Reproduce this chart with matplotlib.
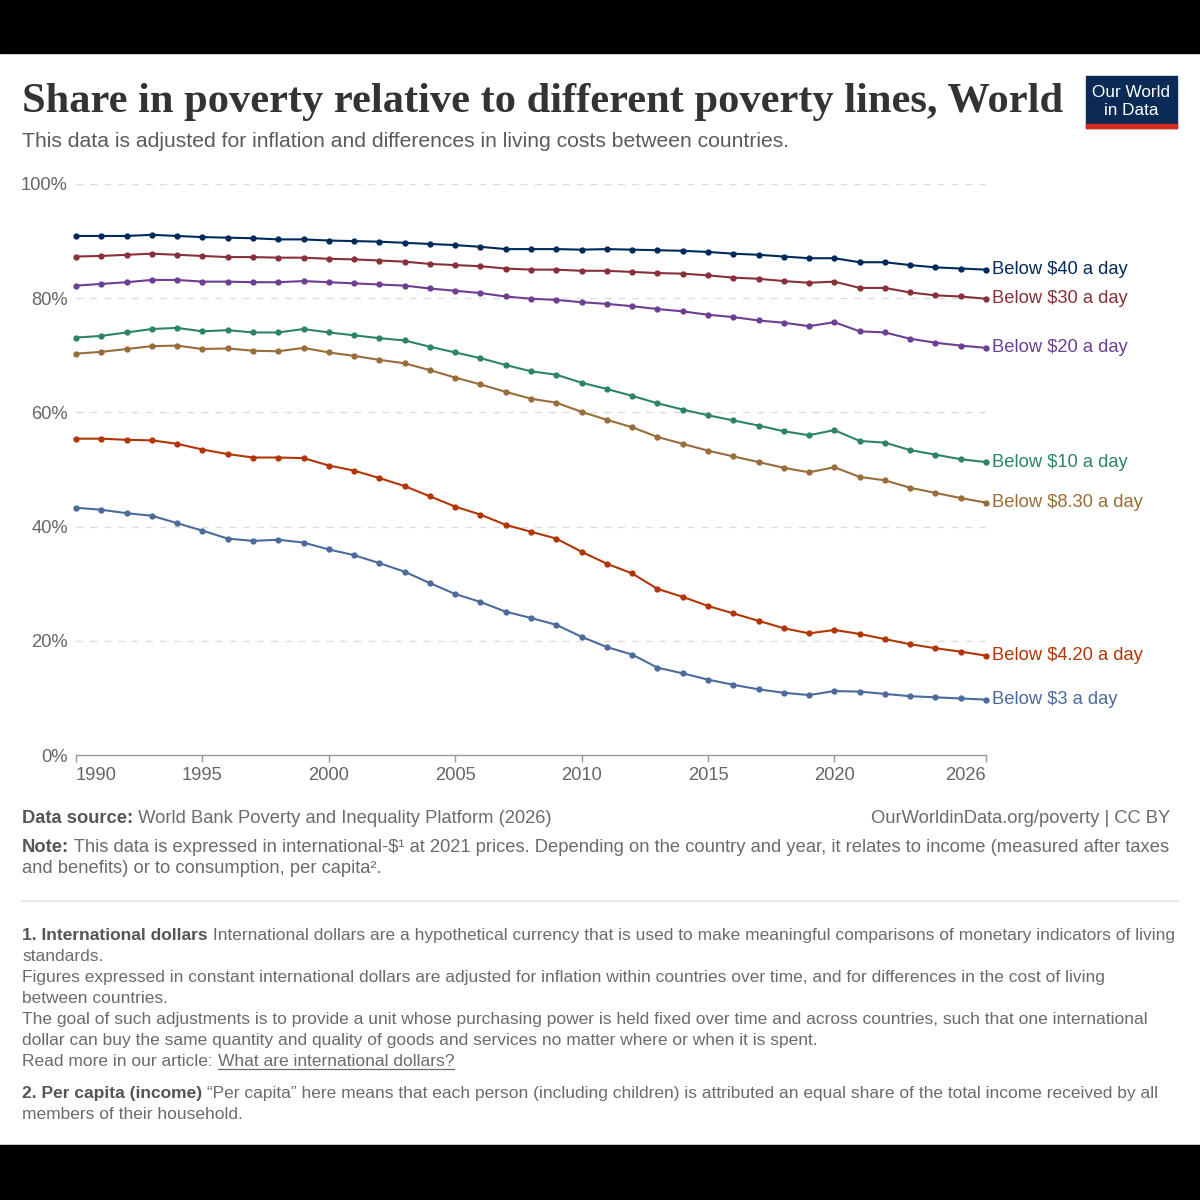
import matplotlib
matplotlib.use("Agg")
import matplotlib.pyplot as plt
from matplotlib.patches import Rectangle
from matplotlib.lines import Line2D

years = list(range(1990, 2027))

below_40 = [90.9, 90.9, 90.9, 91.1, 90.9, 90.7, 90.6, 90.5, 90.3, 90.3, 90.1, 90.0, 89.9,
            89.7, 89.5, 89.3, 89.0, 88.6, 88.6, 88.6, 88.5, 88.6, 88.5, 88.4, 88.3, 88.1, 87.8, 87.6, 87.3,
            87.0, 87.0, 86.3, 86.3, 85.8, 85.4, 85.2, 85.0]
below_30 = [87.3, 87.4, 87.6, 87.8, 87.6, 87.4, 87.2, 87.2, 87.1, 87.1, 86.9, 86.8, 86.6,
            86.4, 86.0, 85.8, 85.6, 85.2, 85.0, 85.0, 84.8, 84.8, 84.6, 84.4, 84.3, 84.0, 83.6, 83.4, 83.0,
            82.7, 82.9, 81.8, 81.8, 81.0, 80.5, 80.3, 79.9]
below_20 = [82.2, 82.5, 82.8, 83.2, 83.2, 82.9, 82.9, 82.8, 82.8, 83.0, 82.8, 82.6, 82.4,
            82.2, 81.7, 81.3, 80.9, 80.3, 79.9, 79.7, 79.3, 79.0, 78.6, 78.1, 77.7, 77.1, 76.7, 76.1, 75.7,
            75.1, 75.8, 74.2, 74.0, 72.9, 72.2, 71.7, 71.3]
below_10 = [73.1, 73.4, 74.0, 74.6, 74.8, 74.2, 74.4, 74.0, 74.0, 74.6, 74.0, 73.5, 73.0,
            72.6, 71.5, 70.5, 69.5, 68.3, 67.2, 66.6, 65.2, 64.1, 62.9, 61.6, 60.5, 59.5, 58.6, 57.7, 56.7,
            56.0, 56.9, 55.0, 54.7, 53.4, 52.6, 51.8, 51.3]
below_830 = [70.3, 70.6, 71.1, 71.6, 71.7, 71.1, 71.2, 70.8, 70.7, 71.3, 70.5, 69.9, 69.2,
             68.6, 67.4, 66.1, 64.9, 63.6, 62.4, 61.7, 60.1, 58.7, 57.4, 55.7, 54.5, 53.3, 52.3, 51.3, 50.3,
             49.5, 50.4, 48.7, 48.1, 46.8, 45.9, 45.0, 44.2]
below_420 = [55.4, 55.4, 55.2, 55.1, 54.5, 53.5, 52.7, 52.1, 52.1, 52.0, 50.7, 49.8, 48.5,
             47.1, 45.3, 43.5, 42.1, 40.3, 39.1, 37.9, 35.6, 33.5, 31.8, 29.1, 27.7, 26.1, 24.8, 23.5, 22.2,
             21.3, 21.9, 21.2, 20.3, 19.4, 18.7, 18.1, 17.4]
below_3 = [43.3, 42.95, 42.35, 41.9, 40.6, 39.3, 37.9, 37.5, 37.7, 37.2, 36.0, 35.0, 33.6,
           32.1, 30.1, 28.2, 26.8, 25.1, 24.0, 22.8, 20.7, 18.9, 17.6, 15.3, 14.3, 13.2, 12.3, 11.5, 10.9,
           10.5, 11.2, 11.1, 10.7, 10.3, 10.1, 9.9, 9.7]

series_names = ["Below $40 a day", "Below $30 a day", "Below $20 a day", "Below $10 a day",
                "Below $8.30 a day", "Below $4.20 a day", "Below $3 a day"]
series_values = [below_40, below_30, below_20, below_10, below_830, below_420, below_3]
series_colors = ["#00295B", "#883039", "#6D3E91", "#2C8465", "#996D39", "#B13507", "#4C6A9C"]

x_ticks = [1990, 1995, 2000, 2005, 2010, 2015, 2020, 2026]
y_ticks = [0, 20, 40, 60, 80, 100]

plt.rcParams['font.family'] = ['Liberation Sans', 'DejaVu Sans']

W = 1200
fig = plt.figure(figsize=(12, 12), dpi=100)
fig.patch.set_facecolor("white")


def fx(x):
    return x / W


def fy(y):
    return 1 - y / W


# black bands top and bottom
fig.patches.append(Rectangle((0, fy(53)), 1, 53 / W, transform=fig.transFigure, color="black", zorder=0))
fig.patches.append(Rectangle((0, 0), 1, 55 / W, transform=fig.transFigure, color="black", zorder=0))

LBL = 13.2
ax = fig.add_axes([fx(76), fy(755), (986 - 76) / W, (755 - 184) / W])
for name, vals, col in zip(series_names, series_values, series_colors):
    ax.plot(years, vals, color=col, lw=1.5, marker="o", markersize=3.5, zorder=3, clip_on=False)
    ax.text(years[-1] + 0.25, vals[-1], name, color=col, fontsize=LBL, va="center", ha="left")

ax.set_xlim(1990, 2026)
ax.set_ylim(0, 100)
for s in ["top", "right", "left"]:
    ax.spines[s].set_visible(False)
ax.spines["bottom"].set_color("#999999")
ax.spines["bottom"].set_linewidth(1)
for v in y_ticks[1:]:
    ax.axhline(v, color="#dddddd", lw=1, ls=(0, (5, 5)), zorder=1)
ax.set_yticks(y_ticks)
ax.set_yticklabels([f"{v}%" for v in y_ticks])
ax.tick_params(axis="y", length=0, pad=5.8, labelsize=LBL, labelcolor="#666666")
ax.set_xticks(x_ticks)
ax.set_xticklabels([str(v) for v in x_ticks])
ax.tick_params(axis="x", length=5, width=1, color="#999999", pad=4, labelsize=LBL, labelcolor="#666666")
xl = ax.get_xticklabels()
xl[0].set_ha("left")
xl[-1].set_ha("right")

# title and subtitle
fig.text(fx(22), fy(112), "Share in poverty relative to different poverty lines, World",
         family="Liberation Serif", weight="bold", fontsize=30.6, color="#333333", va="baseline")
fig.text(fx(22), fy(147), "This data is adjusted for inflation and differences in living costs between countries.",
         fontsize=15.2, color="#5b5b5b", va="baseline")

# logo
fig.patches.append(Rectangle((fx(1086), fy(128)), 91 / W, 52 / W, transform=fig.transFigure,
                             color="#0b2a55", zorder=2))
fig.patches.append(Rectangle((fx(1086), fy(128)), 91 / W, 4 / W, transform=fig.transFigure,
                             color="#d42b21", zorder=3))
fig.text(fx(1131.5), fy(97), "Our World", color="white", fontsize=12.3, ha="center", va="baseline", zorder=4)
fig.text(fx(1131.5), fy(115), "in Data", color="white", fontsize=12.3, ha="center", va="baseline", zorder=4)

renderer = fig.canvas.get_renderer()
GRAY = "#6b6b6b"
DARK = "#555555"


def rich(x, y, parts, size=12.55):
    for s, bold in parts:
        t = fig.text(fx(x), fy(y), s, fontsize=size, color=DARK if bold else GRAY,
                     weight="bold" if bold else "normal", va="baseline")
        bb = t.get_window_extent(renderer)
        x = bb.x1
    return x


rich(22, 823, [("Data source:", True), (" World Bank Poverty and Inequality Platform (2026)", False)], 13.2)
fig.text(fx(1170), fy(823), "OurWorldinData.org/poverty | CC BY", fontsize=13.2, color=GRAY,
         ha="right", va="baseline")
rich(22, 852, [("Note:", True), (" This data is expressed in international-$¹ at 2021 prices. Depending on the "
                                 "country and year, it relates to income (measured after taxes", False)], 13.2)
rich(22, 873, [("and benefits) or to consumption, per capita².", False)], 13.2)

fig.add_artist(Line2D([fx(22), fx(1178)], [fy(901), fy(901)], color="#e3e3e3", lw=1.2))

rich(22, 940, [("1. International dollars", True),
               (" International dollars are a hypothetical currency that is used to make meaningful "
                "comparisons of monetary indicators of living", False)])
rich(22, 961, [("standards.", False)])
rich(22, 982, [("Figures expressed in constant international dollars are adjusted for inflation within "
                "countries over time, and for differences in the cost of living", False)])
rich(22, 1003, [("between countries.", False)])
rich(22, 1024, [("The goal of such adjustments is to provide a unit whose purchasing power is held fixed over "
                 "time and across countries, such that one international", False)])
rich(22, 1045, [("dollar can buy the same quantity and quality of goods and services no matter where or "
                 "when it is spent.", False)])
x0 = rich(22, 1066, [("Read more in our article: ", False)])
x1 = rich(x0, 1066, [("What are international dollars?", False)])
fig.add_artist(Line2D([fx(x0), fx(x1)], [fy(1069), fy(1069)], color=GRAY, lw=0.9))
rich(22, 1098, [("2. Per capita (income)", True),
                (" \u201cPer capita\u201d here means that each person (including children) is attributed an "
                 "equal share of the total income received by all", False)])
rich(22, 1119, [("members of their household.", False)])

fig.savefig("out.png", dpi=100, facecolor="white")
